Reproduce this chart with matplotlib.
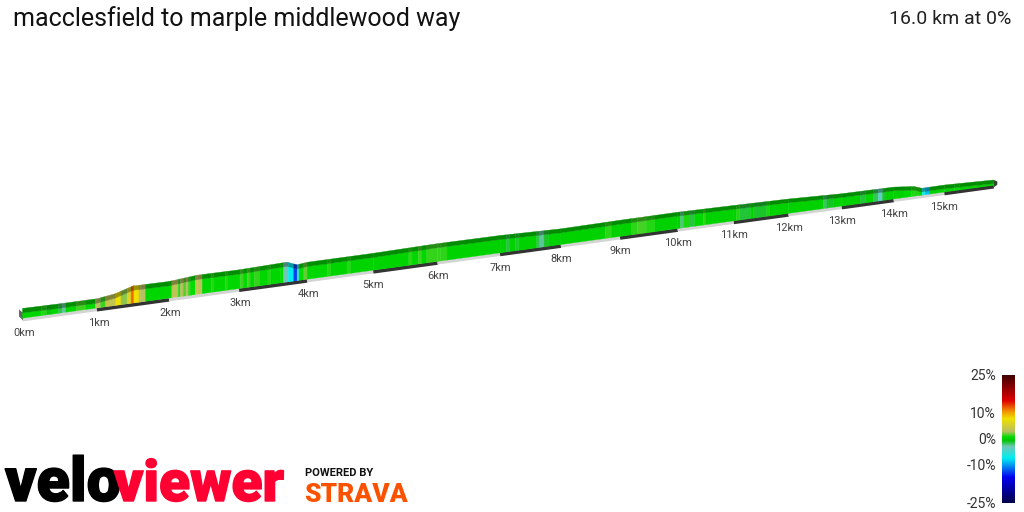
"""VeloViewer style 3D gradient ribbon for one route"""
import matplotlib
matplotlib.use("Agg")
import matplotlib.pyplot as plt
import matplotlib.patheffects as pe
import numpy as np
from matplotlib.collections import PolyCollection
from matplotlib.colors import LinearSegmentedColormap

plt.rcParams["font.family"] = ["Roboto", "DejaVu Sans"]

# relative elevation read from the ribbon height
elev_km = [0, 0.5, 1, 1.25, 1.5, 1.6, 2, 2.4, 3, 3.7, 3.85, 4, 5, 6, 7, 8, 9, 10, 11, 12, 13, 14, 14.4, 14.55, 15, 16]
elev_rel = [11, 10.6, 10.6, 13.2, 18.8, 18.6, 18.4, 21, 20.8, 22.2, 18, 19.2, 19.4, 20.6, 20.4, 18.8, 19.6, 20, 19.2, 18.2, 16, 15.6, 13, 9.6, 9.8, 7.8]

# start of each colour band (km) and its gradient (%)
band_km = [0, 0.25, 0.32, 0.38, 0.48, 0.53, 0.58, 0.72, 0.85, 0.98, 1.05, 1.12, 1.26, 1.33, 1.42, 1.47, 1.51, 1.58,
           1.67, 2.04, 2.13, 2.16, 2.2, 2.24, 2.27, 2.3, 2.37, 2.47, 2.6, 2.63, 2.8, 2.83, 3.02, 3.06, 3.12, 3.16, 3.22,
           3.3, 3.42, 3.46, 3.6, 3.65, 3.72, 3.8, 3.85, 3.88, 3.95, 4.0, 4.3, 4.35, 4.6, 4.65, 5.55, 5.6, 5.7, 5.75, 5.83,
           6.05, 6.15, 7.1, 7.15, 7.25, 7.3, 7.6, 7.65, 7.72, 7.8, 8.75, 8.85, 9.2, 9.3, 9.45, 9.6, 10.05, 10.1, 10.2,
           10.3, 10.45, 10.5, 11.05, 11.1, 11.3, 11.35, 11.6, 11.65, 12.65, 12.72, 12.85, 13.35, 13.45, 13.6, 13.7,
           13.78, 13.85, 14.2, 14.35, 14.5, 14.56, 14.62, 14.7, 15.2, 15.3]
band_grad = [0.4, 1.2, -0.7, 0.4, -1.5, -2.6, 0.6, 1.5, 0.5, 3, 1.5, 4, 8, 2.5, 6, 12, 8, 3,
             0.4, 3.5, 1.2, 3, 1.8, 3, 1.5, 0.8, 3.5, 0.4, 1.2, 0.4, 1.2, 0.4, 1.5, 0.6, 1.7, 0.5, 1.4,
             0.4, 1.2, 0.4, 0.8, -3, -7.5, -13, -5, 0.8, 2.0, 0.4, 1.2, 0.3, 1.2, 0.3, 1.3, 0.4, 1.5, 0.4, 1.4,
             1.3, 0.2, -1.4, 0.2, -1.2, 0.2, -1.6, -2.6, -1.1, 0.2, 1.3, 0.2, 1.3, 1.6, 1.2, 0.2, -2.2, 1.1, -1.4,
             0.6, 1.3, 0.2, 1.2, -1.3, 0.3, -1.1, 1.1, 0.2, -1.8, -1, 0.2, -1.3, 0.4, -1.7, -4,
             -1.2, 0.2, 0.6, 1.1, 0.2, -7, -9, 0.2, 0.8, 0.2]
route_km = 16

km_marks = list(range(16))
km_labels = [f"{k}km" for k in km_marks]

scale_ticks = [25, 10, 0, -10, -25]
scale_labels = ["25%", "10%", "0%", "-10%", "-25%"]
scale_stops = [(-25, "#00004a"), (-15, "#0000f0"), (-10, "#00a0f0"), (-7.5, "#00eef0"), (-3, "#70c8b8"),
               (-0.6, "#00c400"), (0.8, "#00dc00"), (3, "#b8c060"), (8, "#f0e000"), (11, "#f09000"),
               (15, "#e00000"), (25, "#400000")]

grad_cmap = LinearSegmentedColormap.from_list(
    "gradient", [((g + 25) / 50, c) for g, c in scale_stops], N=512
)


def project(km, height=0.0):
    """Route position to image pixels (perspective along the route)."""
    km = np.asarray(km, dtype=float)
    depth = 1 + 0.01523 * km
    x = 22.5 + 75.5 * km / depth
    y = 319.2 - 0.1371 * (x - 24) - np.asarray(height) / depth
    return x, y, depth


fig = plt.figure(figsize=(10.24, 5.12), dpi=100, facecolor="white")
ax = fig.add_axes([0, 0, 1, 1])
ax.set_xlim(0, 1024)
ax.set_ylim(512, 0)
ax.axis("off")

# base strip, one band per km
for k in range(route_km):
    xs, ys, _ = project([k, k + 1])
    dark = k % 2 == 1
    ax.plot(xs, ys + 0.5, color="#333333" if dark else "#d4d4d4",
            lw=2.6 if dark else 2.2, solid_capstyle="butt", zorder=1)

# split the bands wherever the elevation reading changes too
edges = np.unique(np.concatenate([band_km, elev_km, [route_km]]))
heights = np.interp(edges, elev_km, elev_rel)
mids = (edges[:-1] + edges[1:]) / 2
grads = np.array(band_grad)[np.searchsorted(band_km, mids, side="right") - 1]
colors = grad_cmap((grads + 25) / 50)

front = []
top = []
for k0, k1, h0, h1 in zip(edges[:-1], edges[1:], heights[:-1], heights[1:]):
    x0, y0, _ = project(k0, 1.2)
    x1, y1, _ = project(k1, 1.2)
    _, t0, _ = project(k0, h0)
    _, t1, _ = project(k1, h1)
    _, m0, _ = project(k0, h0 - 4.5)
    _, m1, _ = project(k1, h1 - 4.5)
    front.append([(x0, y0), (x1, y1), (x1, m1), (x0, m0)])
    top.append([(x0, m0), (x1, m1), (x1, t1), (x0, t0)])

ax.add_collection(PolyCollection(front, facecolors=colors, edgecolors=colors, linewidths=0.25, zorder=3))
top_colors = colors.copy()
top_colors[:, :3] = top_colors[:, :3] * 0.66
ax.add_collection(PolyCollection(top, facecolors=top_colors, edgecolors=top_colors, linewidths=0.25, zorder=3))

# near-end and far-end caps
x_s, y_s, _ = project(0, 0)
_, y_t, _ = project(0, elev_rel[0])
ax.fill([x_s - 3.5, x_s + 0.5, x_s + 0.5, x_s - 3.5], [y_t + 1, y_t + 4.5, y_s + 1, y_s - 3],
        color="#666666", lw=0, zorder=2)
x_e, y_e, _ = project(route_km, 0)
_, y_u, _ = project(route_km, elev_rel[-1])
ax.fill([x_e, x_e + 3.5, x_e + 3.5, x_e], [y_u, y_u + 1.5, y_e - 1.5, y_e + 1],
        color="#2c4a2c", lw=0, zorder=2)

# km labels under the ribbon
for k, label in zip(km_marks, km_labels):
    x, y, _ = project(k)
    ax.annotate(label, (x, y), xytext=(1.2 if k < 5 else 0, -9.8), textcoords="offset points",
                ha="center", va="center", fontsize=8, color="#444444", zorder=4)

ax.text(13, 19, "macclesfield to marple middlewood way", fontsize=18, color="#111111", ha="left", va="center")
ax.text(1011, 19, "16.0 km at 0%", fontsize=14, color="#222222", ha="right", va="center")

# gradient scale
ramp = np.linspace(25, -25, 256).reshape(-1, 1)
ax.imshow(ramp, cmap=grad_cmap, vmin=-25, vmax=25, extent=(1002, 1015, 503, 375), aspect="auto", zorder=2)
ax.set_xlim(0, 1024)
ax.set_ylim(512, 0)
for tick, label in zip(scale_ticks, scale_labels):
    ax.text(996, 440 - tick * 2.56, label, fontsize=10, color="#333333", ha="right", va="center")

# logos
fatten_k = [pe.withStroke(linewidth=1.0, foreground="black")]
fatten_r = [pe.withStroke(linewidth=1.0, foreground="#ff0033")]
ax.text(5, 501, "velo", fontsize=44, fontweight="black", color="black", ha="left", va="baseline", path_effects=fatten_k)
ax.text(114, 501, "viewer", fontsize=41, fontweight="black", color="#ff0033", ha="left", va="baseline", path_effects=fatten_r)
ax.text(305, 472.5, "POWERED BY", fontsize=8, fontweight="bold", color="#111111", ha="left", va="center")
ax.text(304, 502, "STRAVA", fontsize=19, fontweight="black", color="#fc5200", ha="left", va="baseline")

fig.savefig("out.png", dpi=100)
plt.close(fig)
